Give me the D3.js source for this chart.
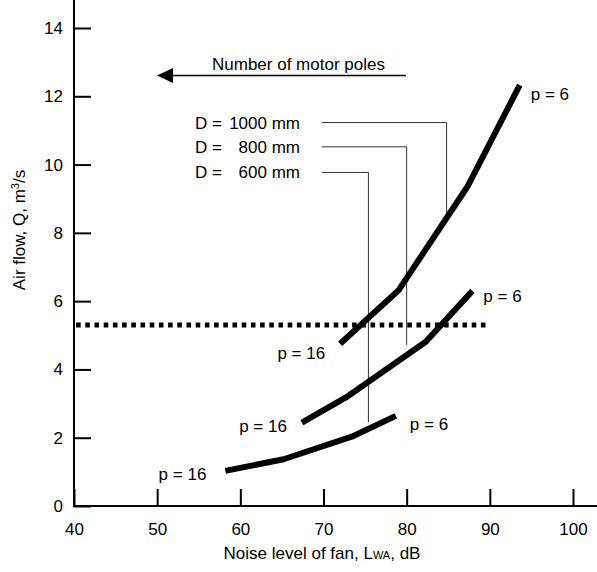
<!DOCTYPE html>
<html>
<head>
<meta charset="utf-8">
<script src="https://cdn.jsdelivr.net/npm/d3@7"></script>
<style>
  html, body { margin: 0; padding: 0; background: #fff; }
  svg { display: block; font-family: "Liberation Sans", Arial, sans-serif; }
</style>
</head>
<body>
<div id="chart"></div>
<script>
// curve values (noise level dB, air flow m3/s)
const noise1000 = [72.0, 79.0, 87.3, 93.6];
const flow1000 = [4.75, 6.31, 9.35, 12.33];
const noise800 = [67.4, 72.7, 82.3, 87.9];
const flow800 = [2.44, 3.18, 4.81, 6.30];
const noise600 = [58.2, 65.2, 73.4, 78.7];
const flow600 = [1.03, 1.37, 2.03, 2.64];

const diameterLabels = ["1000 mm", "800 mm", "600 mm"];
// leader lines: horizontal level, vertical position, bottom of vertical
const leaderFlow = [11.23, 10.52, 9.77];
const leaderNoise = [84.8, 80.0, 75.4];
const leaderEnd = [8.5, 4.72, 2.45];
const leaderStart = 69.8;

const requiredFlow = 5.3;
const requiredRange = [40.25, 89.6];

const xTicks = [40, 50, 60, 70, 80, 90, 100];
const yTicks = [0, 2, 4, 6, 8, 10, 12, 14];

const width = 597, height = 572;

const svg = d3.select("#chart").append("svg")
  .attr("width", width)
  .attr("height", height)
  .style("font-size", "17px");

const x = d3.scaleLinear().domain([40, 100]).range([74, 573]);
const y = d3.scaleLinear().domain([0, 14]).range([506, 28]);

// axes
svg.append("g")
  .attr("transform", `translate(0,${y(0)})`)
  .call(d3.axisBottom(x).tickValues(xTicks).tickSize(-17).tickPadding(17).tickFormat(d3.format("d")))
  .call(g => g.select(".domain").remove())
  .call(g => g.selectAll(".tick line").attr("stroke", "#000").attr("stroke-width", 2))
  .call(g => g.selectAll(".tick text").attr("fill", "#000").style("font-size", "17px"));

svg.append("g")
  .attr("transform", `translate(${x(40)},0)`)
  .call(d3.axisLeft(y).tickValues(yTicks).tickSize(-17).tickPadding(11).tickFormat(d3.format("d")))
  .call(g => g.select(".domain").remove())
  .call(g => g.selectAll(".tick line").attr("stroke", "#000").attr("stroke-width", 2))
  .call(g => g.selectAll(".tick text").attr("fill", "#000").style("font-size", "17px"));

svg.append("line")
  .attr("x1", x(40)).attr("x2", width)
  .attr("y1", y(0)).attr("y2", y(0))
  .attr("stroke", "#000").attr("stroke-width", 2);
svg.append("line")
  .attr("x1", x(40)).attr("x2", x(40))
  .attr("y1", 0).attr("y2", y(0) + 1)
  .attr("stroke", "#000").attr("stroke-width", 2);

// axis titles
svg.append("text")
  .attr("transform", `translate(25,230) rotate(-90)`)
  .attr("text-anchor", "middle")
  .call(t => {
    t.append("tspan").text("Air flow, Q, m");
    t.append("tspan").text("3").attr("font-size", "11px").attr("dy", "-6");
    t.append("tspan").text("/s").attr("dy", "6");
  });

svg.append("text")
  .attr("x", 322).attr("y", 559)
  .attr("text-anchor", "middle")
  .call(t => {
    t.append("tspan").text("Noise level of fan, L");
    t.append("tspan").text("WA").attr("font-size", "11px");
    t.append("tspan").text(", dB");
  });

// required air flow (dotted)
svg.append("line")
  .attr("x1", x(requiredRange[0])).attr("x2", x(requiredRange[1]))
  .attr("y1", y(requiredFlow)).attr("y2", y(requiredFlow))
  .attr("stroke", "#000").attr("stroke-width", 5)
  .attr("stroke-dasharray", "4.6 4.6");

// leader lines to the curves
leaderFlow.forEach((f, i) => {
  svg.append("path")
    .attr("d", `M${x(leaderStart)},${y(f)}H${x(leaderNoise[i])}V${y(leaderEnd[i])}`)
    .attr("fill", "none")
    .attr("stroke", "#333")
    .attr("stroke-width", 1);
  svg.append("text")
    .attr("x", 195).attr("y", y(f) + 6)
    .text("D =");
  svg.append("text")
    .attr("x", 300).attr("y", y(f) + 6)
    .attr("text-anchor", "end")
    .text(diameterLabels[i]);
});

// fan curves
const line = d3.line().x(d => x(d[0])).y(d => y(d[1]));
const curves = [
  { n: noise1000, q: flow1000, lo: [-15, 15], hi: [11, 15] },
  { n: noise800, q: flow800, lo: [-15, 9], hi: [11, 11] },
  { n: noise600, q: flow600, lo: [-19, 9], hi: [14, 14] }
];
curves.forEach(c => {
  const pts = d3.zip(c.n, c.q);
  svg.append("path")
    .attr("d", line(pts))
    .attr("fill", "none")
    .attr("stroke", "#000")
    .attr("stroke-width", 6)
    .attr("stroke-linejoin", "round");
  const first = pts[0], last = pts[pts.length - 1];
  svg.append("text")
    .attr("x", x(first[0]) + c.lo[0]).attr("y", y(first[1]) + c.lo[1])
    .attr("text-anchor", "end")
    .text("p = 16");
  svg.append("text")
    .attr("x", x(last[0]) + c.hi[0]).attr("y", y(last[1]) + c.hi[1])
    .text("p = 6");
});

// number of motor poles arrow
svg.append("text")
  .attr("x", 212).attr("y", 70)
  .text("Number of motor poles");
svg.append("line")
  .attr("x1", 170).attr("x2", 406)
  .attr("y1", 75.5).attr("y2", 75.5)
  .attr("stroke", "#000").attr("stroke-width", 1.5);
svg.append("path")
  .attr("d", "M157,75.5L173,68L173,83Z")
  .attr("fill", "#000");
</script>
</body>
</html>
